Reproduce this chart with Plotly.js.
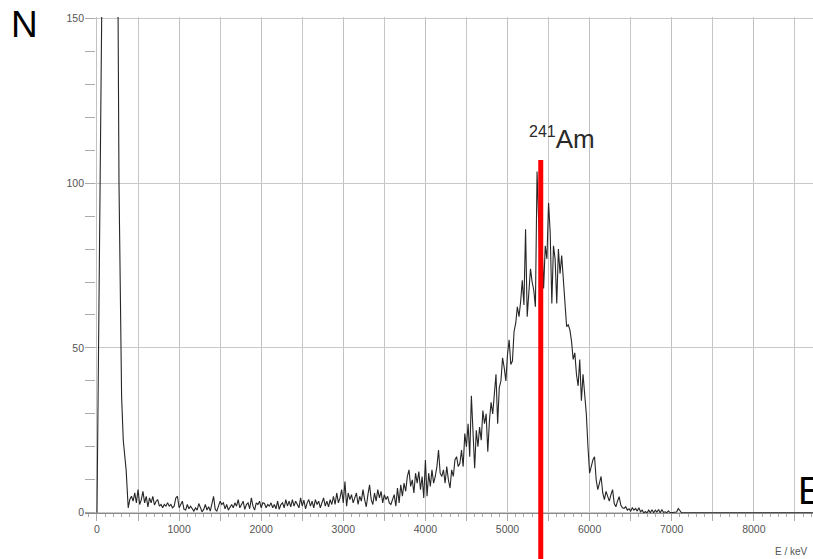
<!DOCTYPE html>
<html><head><meta charset="utf-8">
<script src="https://cdn.plot.ly/plotly-3.0.1.min.js"></script>
<style>html,body{margin:0;padding:0;background:#fff}#chart{width:813px;height:559px}</style>
</head><body><div id="chart"></div>
<script>
// Low-energy spike (goes off scale)
const spikeEnergy = [0, 100, 200, 255, 268, 300, 320, 355];
const spikeCounts = [0, 263, 300, 160, 100, 35, 22, 13];

// Spectrum channels (keV) and counts
const energy = [
  380,400,420,440,460,480,500,520,540,560,
  580,600,620,640,660,680,700,720,740,760,
  780,800,820,840,860,880,900,920,940,960,
  980,1000,1020,1040,1060,1080,1100,1120,1140,1160,
  1180,1200,1220,1240,1260,1280,1300,1320,1340,1360,
  1380,1400,1420,1440,1460,1480,1500,1520,1540,1560,
  1580,1600,1620,1640,1660,1680,1700,1720,1740,1760,
  1780,1800,1820,1840,1860,1880,1900,1920,1940,1960,
  1980,2000,2020,2040,2060,2080,2100,2120,2140,2160,
  2180,2200,2220,2240,2260,2280,2300,2320,2340,2360,
  2380,2400,2420,2440,2460,2480,2500,2520,2540,2560,
  2580,2600,2620,2640,2660,2680,2700,2720,2740,2760,
  2780,2800,2820,2840,2860,2880,2900,2920,2940,2960,
  2980,3000,3020,3040,3060,3080,3100,3120,3140,3160,
  3180,3200,3220,3240,3260,3280,3300,3320,3340,3360,
  3380,3400,3420,3440,3460,3480,3500,3520,3540,3560,
  3580,3600,3620,3640,3660,3680,3700,3720,3740,3760,
  3780,3800,3820,3840,3860,3880,3900,3920,3940,3960,
  3980,4000,4020,4040,4060,4080,4100,4120,4140,4160,
  4180,4200,4220,4240,4260,4280,4300,4320,4340,4360,
  4380,4400,4420,4440,4460,4480,4500,4520,4540,4560,
  4580,4600,4620,4640,4660,4680,4700,4720,4740,4760,
  4780,4800,4820,4840,4860,4880,4900,4920,4940,4960,
  4980,5000,5020,5040,5060,5080,5100,5120,5140,5160,
  5180,5200,5220,5240,5260,5280,5300,5320,5340,5360,
  5380,5400,5420,5440,5460,5480,5500,5520,5540,5560,
  5580,5600,5620,5640,5660,5680,5700,5720,5740,5760,
  5780,5800,5820,5840,5860,5880,5900,5920,5940,5960,
  5980,6000,6020,6040,6060,6080,6100,6120,6140,6160,
  6180,6200,6220,6240,6260,6280,6300,6320,6340,6360,
  6380,6400,6420,6440,6460,6480,6500,6520,6540,6560,
  6580,6600,6620,6640,6660,6680,6700,6720,6740,6760,
  6780,6800,6820,6840,6860,6880,6900,6920,6940,6960,
  6980,7000,7020,7040,7060,7080,7100,7120,7140,7160
];
const counts = [
  1.5,4,5,3.5,6,3,7,2.5,4,6.5,
  3,5,1.8,4.5,3,5,2.3,3.5,4,2,
  2.5,1.5,2.5,2,3,2,2.5,1.5,2,4.5,
  5,1.5,2.5,3.5,1,0.8,2.5,1.2,2,1,
  0.5,1.5,0.8,2.8,1.5,0.3,1,2.5,0.8,1.8,
  0.5,3,5,1,0.5,2,3.5,2.5,3,1.2,
  2.5,0.8,1.8,2.5,1.5,3,2,4,1.5,2.5,
  3.5,1,2.5,3,1.2,4.5,2,0.8,3,2.5,
  3.5,1.5,3,2.8,1.5,2.5,2,3,1.5,2.5,
  1.2,3.5,1,2.5,3,1.5,4,2,3.5,1.8,
  4,2,3.5,2.5,1.5,4.5,2,3.8,1.2,3,
  4,2,3.5,1.5,4,2.5,3.5,1.5,3,4.5,
  2,3.5,1.8,4,2.5,5,2.5,6,3,4.5,
  7,3,9.5,2,6,4,5.5,3,4.5,6,
  2.5,5,3.5,7,4,1.8,5.5,8.5,4,2.5,
  6,3.5,7,4.5,6.5,3,5.5,4,5,3,
  2.5,4,5.5,2,7.5,3,8.5,5,9,6.5,
  11,13,8,10,6,12,9,12.5,7,11,
  4.5,16,5,12,8,13,9,11,14,19,
  12,11,13,9,14,10,7.5,13,11,16,
  17,14,15,19,14,24,20,27,17,35.5,
  22,13.5,25,20,26,22,31,27,30,18.5,
  28,33.5,30,37,42,27,38,40,47,44,
  40,48,52.5,45,46,55,57.5,62.5,59.5,64,
  70.5,63,86,59.5,66,74,70,67.5,62.5,103.5,
  88,72,82,68,81,77,94,85,63.5,81,
  77,63.5,80,72.5,78,70.5,63.5,56.5,57,55.5,
  52,46.5,48.5,42,38.5,46.5,34,42,36,30,
  20,12,14,16,17,10,7,9,11,6,
  4,6.5,5,3.5,5.5,7,2.8,1.8,3.5,4.9,
  2.3,1.5,1.3,1.8,0.8,1.2,0.5,1.5,0.8,1.3,
  0.5,1.5,0.3,0.8,0,0.3,0,0.8,0,0.9,
  0,0.8,0.2,1,0,0.9,0.1,0.3,0,0.6,
  0,0,0,0,0.2,1.3,0.5,0,0,0
];
const tailEnergy = [8720];
const tailCounts = [0];

const yTickVals = [0,50,100,150];

const peakNuclide = '241';
const peakElement = 'Am';
const peakEnergy = 5405;
const peakLineTop = 107;

const W = 813, H = 559, M = {l:85, r:0, t:17, b:40};
const xRange = [-146, 8721], yRange = [-1.9, 150.4];
const px = p => (p - M.l) / (W - M.l - M.r);
const py = p => (H - M.b - p) / (H - M.t - M.b);
const fx = v => (v - xRange[0]) / (xRange[1] - xRange[0]);
const fy = v => (v - yRange[0]) / (yRange[1] - yRange[0]);

const tickFont = {family: 'Liberation Sans, Arial, sans-serif', size: 10.5, color: '#555'};

const trace = {
  type: 'scatter', mode: 'lines',
  x: spikeEnergy.concat(energy, tailEnergy),
  y: spikeCounts.concat(counts, tailCounts),
  line: {color: '#262626', width: 1.1},
  hoverinfo: 'skip', showlegend: false
};

const layout = {
  width: W, height: H, margin: M,
  paper_bgcolor: '#fff', plot_bgcolor: '#fff',
  showlegend: false,
  xaxis: {
    range: xRange, anchor: 'free', position: fy(0),
    dtick: 1000, tick0: 0,
    showgrid: true, gridcolor: '#c2c2c2', gridwidth: 1,
    zeroline: false, showline: true, linecolor: '#8a8a8a', linewidth: 1,
    ticks: 'outside', ticklen: 7, tickcolor: '#aaa',
    minor: {dtick: 500, tick0: 0, ticks: 'outside', ticklen: 7, tickcolor: '#aaa', showgrid: true, gridcolor: '#c6c6c6', gridwidth: 1},
    tickfont: tickFont
  },
  xaxis2: {
    range: xRange, overlaying: 'x', anchor: 'free', position: fy(0), side: 'bottom',
    dtick: 100, tick0: 0, showticklabels: false, showgrid: false, zeroline: false, showline: false,
    ticks: 'outside', ticklen: 3, tickcolor: '#aaa'
  },
  yaxis: {
    range: yRange, tickvals: yTickVals,
    showgrid: true, gridcolor: '#c8c8c8', gridwidth: 1,
    zeroline: false, showline: false,
    ticks: 'inside', ticklen: 10, tickcolor: '#aaa',
    minor: {dtick: 10, tick0: 0, ticks: 'inside', ticklen: 10, tickcolor: '#aaa', showgrid: false},
    tickfont: tickFont
  },
  shapes: [{
    type: 'line', xref: 'paper', yref: 'paper',
    x0: fx(peakEnergy), x1: fx(peakEnergy), y0: py(H + 2), y1: fy(peakLineTop),
    line: {color: '#ff0000', width: 5}
  }],
  annotations: [
    {xref:'paper', yref:'paper', x: px(24), y: py(25), xanchor:'center', yanchor:'middle',
     text:'N', showarrow:false, font:{family:'Liberation Sans, Arial, sans-serif', size:37, color:'#000'}},
    {xref:'paper', yref:'paper', x: px(796), y: py(491), xanchor:'left', yanchor:'middle',
     text:'E', showarrow:false, font:{family:'Liberation Sans, Arial, sans-serif', size:38, color:'#000'}},
    {xref:'paper', yref:'paper', x: px(562), y: py(138), xanchor:'center', yanchor:'middle',
     text: '<sup><span style="font-size:16px">' + peakNuclide + '</span></sup>' + peakElement,
     showarrow:false, font:{family:'Liberation Sans, Arial, sans-serif', size:26, color:'#2a2a2a'}},
    {xref:'paper', yref:'paper', x: px(810), y: py(551), xanchor:'right', yanchor:'middle',
     text:'E / keV', showarrow:false, font:{family:'Liberation Sans, Arial, sans-serif', size:10, color:'#555'}}
  ]
};

const hiddenTickTrace = {type:'scatter', mode:'lines', x:[xRange[0]], y:[0], xaxis:'x2', yaxis:'y', hoverinfo:'skip', showlegend:false, line:{width:0}};

Plotly.newPlot('chart', [trace, hiddenTickTrace], layout, {staticPlot: true, displayModeBar: false});
</script>
</body></html>
